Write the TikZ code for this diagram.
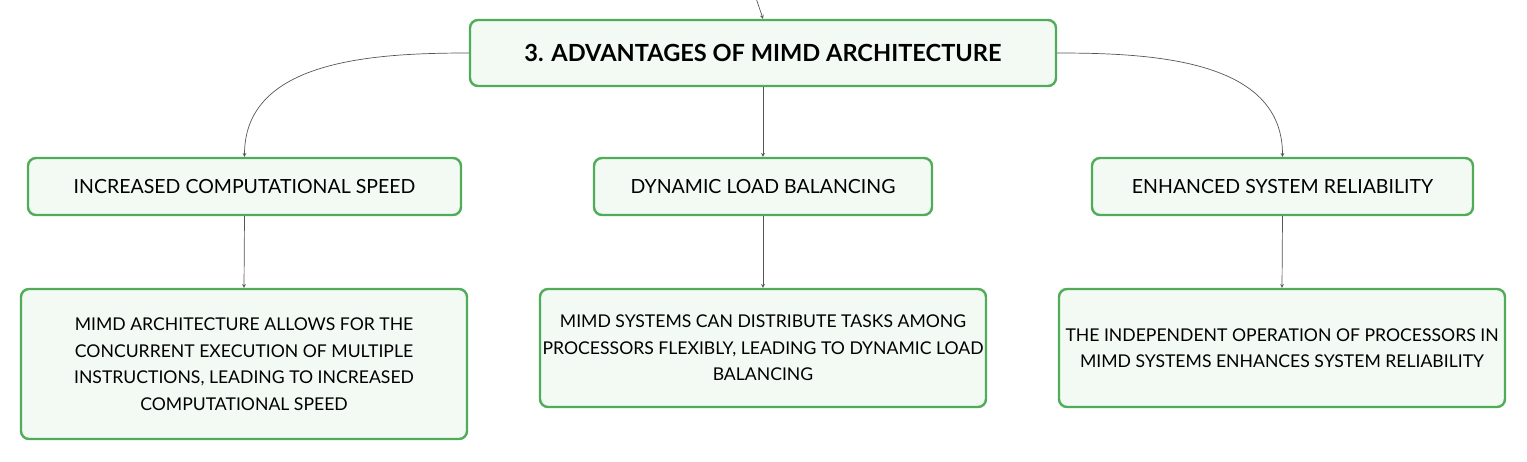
\documentclass[tikz,border=0pt]{standalone}
\usepackage{fontspec}
\setmainfont{Lato}
\usetikzlibrary{arrows}

\definecolor{boxgreen}{RGB}{80,172,88}
\definecolor{boxfill}{RGB}{242,250,243}
\definecolor{linkgray}{RGB}{85,85,85}

\begin{document}
\begin{tikzpicture}[
x=1pt,y=-1pt,
>=stealth,
box/.style={
	draw=boxgreen,
	fill=boxfill,
	line width=2.4pt,
	rounded corners=8pt,
	align=center,
	inner sep=0pt
},
topic/.style={
	box,
	minimum width=586,
	minimum height=66,
	font=\fontsize{23.6}{28}\selectfont\bfseries
},
branch/.style={
	box,
	minimum height=57,
	font=\fontsize{19.5}{23}\selectfont
},
detail/.style={
	box,
	minimum width=446,
	font=\fontsize{17.6}{26.5}\selectfont
},
link/.style={
	->,
	draw=linkgray,
	line width=0.7pt
}
]
\useasboundingbox (0,0) rectangle (1527,461);

\coordinate (parent) at (756,-2);
\node[topic] (root) at (763,53) {3. ADVANTAGES OF MIMD ARCHITECTURE};

\node[branch,minimum width=433] (speed) at (244.5,186.5) {INCREASED COMPUTATIONAL SPEED};
\node[branch,minimum width=338] (load) at (763,186.5) {DYNAMIC LOAD BALANCING};
\node[branch,minimum width=381] (reliab) at (1282.5,186.5) {ENHANCED SYSTEM RELIABILITY};

\node[detail,minimum height=150] (speedtxt) at (244,364)
	{MIMD ARCHITECTURE ALLOWS FOR THE\\CONCURRENT EXECUTION OF MULTIPLE\\INSTRUCTIONS, LEADING TO INCREASED\\COMPUTATIONAL SPEED};
\node[detail,minimum height=118] (loadtxt) at (763,348)
	{MIMD SYSTEMS CAN DISTRIBUTE TASKS AMONG\\PROCESSORS FLEXIBLY, LEADING TO DYNAMIC LOAD\\BALANCING};
\node[detail,minimum height=118] (reliabtxt) at (1282,348)
	{THE INDEPENDENT OPERATION OF PROCESSORS IN\\MIMD SYSTEMS ENHANCES SYSTEM RELIABILITY};

\draw[link] (parent) -- (root.north);
\draw[link] (root.west) to[out=180,in=90] (speed.north);
\draw[link] (root.south) -- (load.north);
\draw[link] (root.east) to[out=0,in=90] (reliab.north);

\draw[link] (speed.south) -- (speedtxt.north);
\draw[link] (load.south) -- (loadtxt.north);
\draw[link] (reliab.south) -- (reliabtxt.north);
\end{tikzpicture}
\end{document}
